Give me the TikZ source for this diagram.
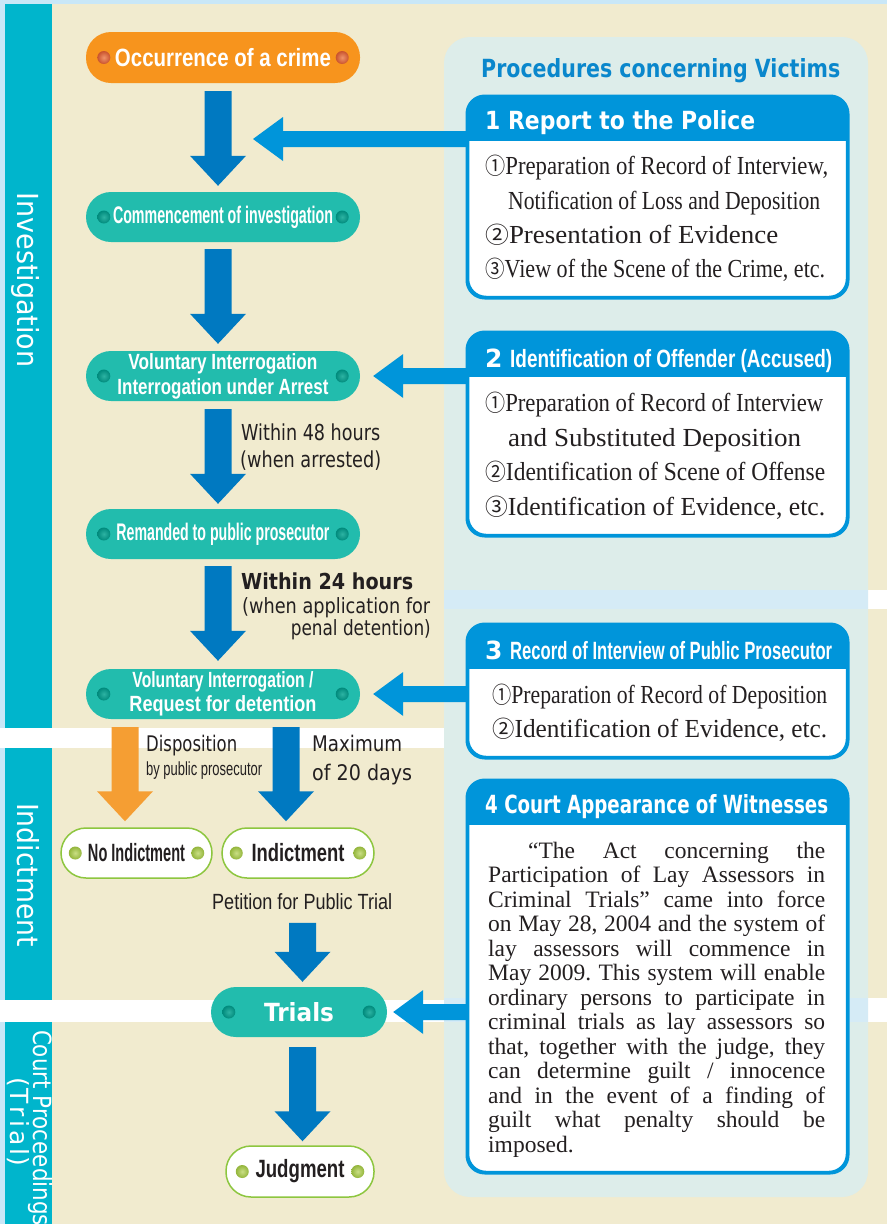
\documentclass[tikz,border=0pt]{standalone}
\usepackage{fontspec}
\usepackage{graphicx}
\setmainfont{Liberation Serif}
\newfontfamily\lsans{Liberation Sans}
\newfontfamily\dsans{DejaVu Sans}
\newfontfamily\cjk{Noto Sans CJK JP}
\usetikzlibrary{calc}
\definecolor{sky}{HTML}{C9E7F7}
\definecolor{beige}{HTML}{F1EBCF}
\definecolor{side}{HTML}{00B5CC}
\definecolor{panel}{HTML}{DDEDEA}
\definecolor{band}{HTML}{D5EBF6}
\definecolor{dblue}{HTML}{0079C1}
\definecolor{lblue}{HTML}{0095DA}
\definecolor{orng}{HTML}{F7941D}
\definecolor{orarrow}{HTML}{F59E33}
\definecolor{tealc}{HTML}{22BCAD}
\definecolor{grn}{HTML}{8DC63F}
\definecolor{ink}{HTML}{231F20}
\definecolor{ttlc}{HTML}{0A87CC}
\definecolor{tdin}{HTML}{2DB3A3}
\definecolor{tdout}{HTML}{008A7C}
\definecolor{odin}{HTML}{F0946A}
\definecolor{odout}{HTML}{C9532E}
\definecolor{gdin}{HTML}{CADF85}
\definecolor{gdout}{HTML}{93B53B}
\newcommand\fw[2]{\resizebox{#1pt}{\height}{#2}}
\newcommand\cn[1]{{\cjk\fontsize{23}{23}\selectfont #1}}
\newcommand\blockdown[3]{\fill[#3] let \p1=(#1), \p2=(#2) in
  (\x1-13.5pt,\y1) -- (\x1+13.5pt,\y1) -- (\x1+13.5pt,\y2+30pt) -- (\x1+28pt,\y2+30pt)
  -- (\x1,\y2) -- (\x1-28pt,\y2+30pt) -- (\x1-13.5pt,\y2+30pt) -- cycle;}
\newcommand\blockleft[3]{\fill[#3] let \p1=(#1), \p2=(#2) in
  (\x1,\y2+8pt) -- (\x2+30pt,\y2+8pt) -- (\x2+30pt,\y2+22pt) -- (\x2,\y2)
  -- (\x2+30pt,\y2-22pt) -- (\x2+30pt,\y2-8pt) -- (\x1,\y2-8pt) -- cycle;}
\newcommand\pilldots[4]{%
  \shade[inner color=#3,outer color=#4] ($(#1.west)+(#2,0)$) circle (6.5pt);
  \shade[inner color=#3,outer color=#4] ($(#1.east)+(-#2,0)$) circle (6.5pt);}
\newcommand\boxhead[1]{%
  \begin{scope}
    \clip[rounded corners=18pt] (#1.north west) rectangle (#1.south east);
    \fill[lblue] (#1.north west) rectangle ($(#1.north east)+(0,45)$);
  \end{scope}
  \draw[lblue, line width=2.5pt, rounded corners=18pt] (#1.north west) rectangle (#1.south east);}
\pgfdeclarelayer{bg}
\pgfsetlayers{bg,main}
\tikzset{
  pill/.style={rounded corners=25pt, minimum height=50pt, inner sep=0pt, align=center},
  tpill/.style={pill, fill=tealc, text=white, minimum width=274pt,
     font=\lsans\bfseries\fontsize{24}{25}\selectfont},
  wpill/.style={pill, fill=white, draw=grn, line width=1.5pt, text=ink,
     font=\lsans\bfseries\fontsize{25}{26}\selectfont},
  vbox/.style={draw=lblue, line width=2.5pt, fill=white, rounded corners=18pt,
     minimum width=379pt, inner sep=0pt},
  hdr/.style={text=white, anchor=base west, inner sep=0pt},
  bline/.style={anchor=base west, inner sep=0pt, text=ink, font=\fontsize{26}{28}\selectfont},
  lab/.style={anchor=base west, inner sep=0pt, text=ink},
  sidetxt/.style={rotate=-90, anchor=base, inner sep=0pt, text=white},
}
\begin{document}
\begin{tikzpicture}[x=1pt,y=-1pt]
\useasboundingbox (0,0) rectangle (887,1224);
\clip (0,0) rectangle (887,1224);
\begin{pgfonlayer}{bg}
\fill[sky] (0,0) rectangle (887,1224);
\fill[beige] (5,4) rectangle (887,1224);
\fill[side] (5,4) rectangle (52,728);
\fill[side] (5,748) rectangle (52,1000);
\fill[side] (5,1022) rectangle (52,1224);
\fill[white] (0,728) rectangle (444,748);
\fill[white] (0,1000) rectangle (444,1022);
\fill[white] (868,590) rectangle (887,609);
\fill[white] (868,998) rectangle (887,1022);
\fill[panel, rounded corners=26pt] (444,37) rectangle (868,1197);
\fill[band] (444,590) rectangle (868,609);
\fill[band] (444,998) rectangle (868,1022);
\end{pgfonlayer}

% side labels
\node[sidetxt, font=\dsans\fontsize{29}{30}\selectfont] (sinv) at (17,280) {\fw{175}{Investigation}};
\node[sidetxt, font=\dsans\fontsize{29}{30}\selectfont] (sind) at (17,875) {\fw{144}{Indictment}};
\node[sidetxt, font=\dsans\fontsize{25}{26}\selectfont] (scourt) at (33,1128) {\fw{196}{Court Proceedings}};
\node[sidetxt, font=\dsans\fontsize{25}{26}\selectfont] (strial) at (10,1122) {\makebox[89pt][s]{(\hfill T\kern3pt r\kern3pt i\kern3pt a\kern3pt l\hfill)}};

% flow nodes
\node[pill, fill=orng, minimum width=274pt, minimum height=51pt, text=white,
  font=\lsans\bfseries\fontsize{25}{26}\selectfont] (occ) at (223,57.5) {\fw{216}{Occurrence of a crime}};
\node[tpill] (com) at (223,217) {\fw{220}{Commencement of investigation}};
\node[tpill, font=\lsans\bfseries\fontsize{22}{25}\selectfont] (vol1) at (223,376)
  {\fw{189}{Voluntary Interrogation}\\\fw{211}{Interrogation under Arrest}};
\node[tpill] (rem) at (223,534) {\fw{213}{Remanded to public prosecutor}};
\node[tpill, font=\lsans\bfseries\fontsize{22}{24}\selectfont] (vol2) at (223,694)
  {\fw{181}{Voluntary Interrogation /}\\\fw{187}{Request for detention}};
\node[wpill, minimum width=151pt] (noi) at (136.5,853) {\fw{97}{No Indictment}};
\node[wpill, minimum width=152pt] (ind) at (298,853) {\fw{93}{Indictment}};
\node[tpill, minimum width=176pt, font=\dsans\bfseries\fontsize{25}{26}\selectfont] (tri) at (299,1012) {\fw{70}{Trials}};
\node[wpill, minimum width=148pt, minimum height=51pt] (jud) at (300,1171.5) {\fw{89}{Judgment}};

\pilldots{occ}{18}{odin}{odout}
\pilldots{com}{18}{tdin}{tdout}
\pilldots{vol1}{18}{tdin}{tdout}
\pilldots{rem}{18}{tdin}{tdout}
\pilldots{vol2}{18}{tdin}{tdout}
\pilldots{tri}{18}{tdin}{tdout}
\pilldots{noi}{15}{gdin}{gdout}
\pilldots{ind}{15}{gdin}{gdout}
\pilldots{jud}{17}{gdin}{gdout}

% labels by arrows
\node[lab, font=\dsans\fontsize{22}{22}\selectfont] (w48) at (241,440) {\fw{139}{Within 48 hours}};
\node[lab, font=\dsans\fontsize{22}{22}\selectfont] (warr) at (240,467) {\fw{141}{(when arrested)}};
\node[lab, font=\dsans\bfseries\fontsize{22}{22}\selectfont] (w24) at (241,589) {\fw{172}{Within 24 hours}};
\node[lab, font=\dsans\fontsize{21}{21}\selectfont] (wapp) at (242,613) {\fw{188}{(when application for}};
\node[lab, anchor=base east, font=\dsans\fontsize{21}{21}\selectfont] (wpen) at (431,635) {\fw{140}{penal detention)}};
\node[lab, font=\dsans\fontsize{21.5}{22}\selectfont] (disp) at (146,751) {\fw{91}{Disposition}};
\node[lab, font=\lsans\fontsize{19}{19}\selectfont] (byp) at (146,775) {\fw{116}{by public prosecutor}};
\node[lab, font=\dsans\fontsize{21.5}{22}\selectfont] (maxd) at (312,751) {\fw{90}{Maximum}};
\node[lab, font=\dsans\fontsize{21.5}{22}\selectfont] (o20) at (312,780) {\fw{100}{of 20 days}};
\node[lab, font=\lsans\fontsize{22}{22}\selectfont] (pet) at (212,909) {\fw{180}{Petition for Public Trial}};

% right panel
\node[anchor=base west, inner sep=0pt, text=ttlc, font=\dsans\bfseries\fontsize{25}{25}\selectfont] (ttl) at (481,77) {\fw{359}{Procedures concerning Victims}};

\node[vbox, minimum height=200pt] (b1) at (657.5,197) {};
\node[vbox, minimum height=202pt] (b2) at (657.5,434) {};
\node[vbox, minimum height=132pt] (b3) at (657.5,691) {};
\node[vbox, minimum height=391pt] (b4) at (657.5,976.5) {};
\boxhead{b1}\boxhead{b2}\boxhead{b3}\boxhead{b4}

\node[hdr, font=\dsans\bfseries\fontsize{25}{25}\selectfont] (h1) at (485,129) {\fw{270}{1 Report to the Police}};
\node[hdr, font=\dsans\bfseries\fontsize{25}{25}\selectfont] (h2n) at (485,367) {2};
\node[hdr, font=\lsans\bfseries\fontsize{25}{25}\selectfont] (h2) at (510,367) {\fw{322}{Identification of Offender (Accused)}};
\node[hdr, font=\dsans\bfseries\fontsize{25}{25}\selectfont] (h3n) at (485,659) {3};
\node[hdr, font=\lsans\bfseries\fontsize{25}{25}\selectfont] (h3) at (510,659) {\fw{322}{Record of Interview of Public Prosecutor}};
\node[hdr, font=\dsans\bfseries\fontsize{25}{25}\selectfont] (h4) at (485,813) {\fw{343}{4 Court Appearance of Witnesses}};

\node[bline] (l11) at (485,174) {\fw{343}{\cn{①}Preparation of Record of Interview,}};
\node[bline] (l12) at (508,209) {\fw{312}{Notification of Loss and Deposition}};
\node[bline] (l13) at (485,243) {\fw{293}{\cn{②}Presentation of Evidence}};
\node[bline] (l14) at (485,277) {\fw{340}{\cn{③}View of the Scene of the Crime, etc.}};
\node[bline] (l21) at (485,411) {\fw{338}{\cn{①}Preparation of Record of Interview}};
\node[bline] (l22) at (508,446) {\fw{293}{and Substituted Deposition}};
\node[bline] (l23) at (485,480) {\fw{340}{\cn{②}Identification of Scene of Offense}};
\node[bline] (l24) at (485,515) {\fw{340}{\cn{③}Identification of Evidence, etc.}};
\node[bline] (l31) at (492,703) {\fw{335}{\cn{①}Preparation of Record of Deposition}};
\node[bline] (l32) at (492,737) {\fw{335}{\cn{②}Identification of Evidence, etc.}};

\node[anchor=base west, inner sep=0pt, text=ink, font=\fontsize{23.5}{24.5}\selectfont] (para) at (488,858)
{\parbox[t]{337pt}{\frenchspacing\baselineskip=24.5pt\noindent
\hspace*{40pt}\makebox[297pt][s]{“The Act concerning the}\\
\makebox[337pt][s]{Participation of Lay Assessors in}\\
\makebox[337pt][s]{Criminal Trials” came into force}\\
\makebox[337pt][s]{on May 28, 2004 and the system of}\\
\makebox[337pt][s]{lay assessors will commence in}\\
\makebox[337pt][s]{May 2009. This system will enable}\\
\makebox[337pt][s]{ordinary persons to participate in}\\
\makebox[337pt][s]{criminal trials as lay assessors so}\\
\makebox[337pt][s]{that, together with the judge, they}\\
\makebox[337pt][s]{can determine guilt / innocence}\\
\makebox[337pt][s]{and in the event of a finding of}\\
\makebox[337pt][s]{guilt what penalty should be}\\
imposed.}};

% arrows
\coordinate (t1) at (253,139);
\begin{pgfonlayer}{bg}
\blockdown{$(occ.south)+(-5,8)$}{$(com.north)+(-5,-6)$}{dblue}
\blockdown{$(com.south)+(-5,7)$}{$(vol1.north)+(-5,-7)$}{dblue}
\blockdown{$(vol1.south)+(-5,8)$}{$(rem.north)+(-5,-5)$}{dblue}
\blockdown{$(rem.south)+(-5,7)$}{$(vol2.north)+(-5,-8)$}{dblue}
\blockdown{$(vol2.south -| noi.north)+(-11.5,8)$}{$(noi.north)+(-11.5,-6)$}{orarrow}
\blockdown{$(vol2.south -| ind.north)+(-12,8)$}{$(ind.north)+(-12,-6)$}{dblue}
\blockdown{$(tri.north)+(3.5,-64)$}{$(tri.north)+(3.5,-5)$}{dblue}
\blockdown{$(tri.south)+(3.5,10)$}{$(jud.north)+(2.5,-4)$}{dblue}
\blockleft{b1.west |- t1}{t1}{lblue}
\blockleft{b2.west |- vol1.east}{$(vol1.east)+(13,0)$}{lblue}
\blockleft{b3.west |- vol2.east}{$(vol2.east)+(13,0)$}{lblue}
\blockleft{b4.west |- tri.east}{$(tri.east)+(6,0)$}{lblue}
\end{pgfonlayer}
\end{tikzpicture}
\end{document}
